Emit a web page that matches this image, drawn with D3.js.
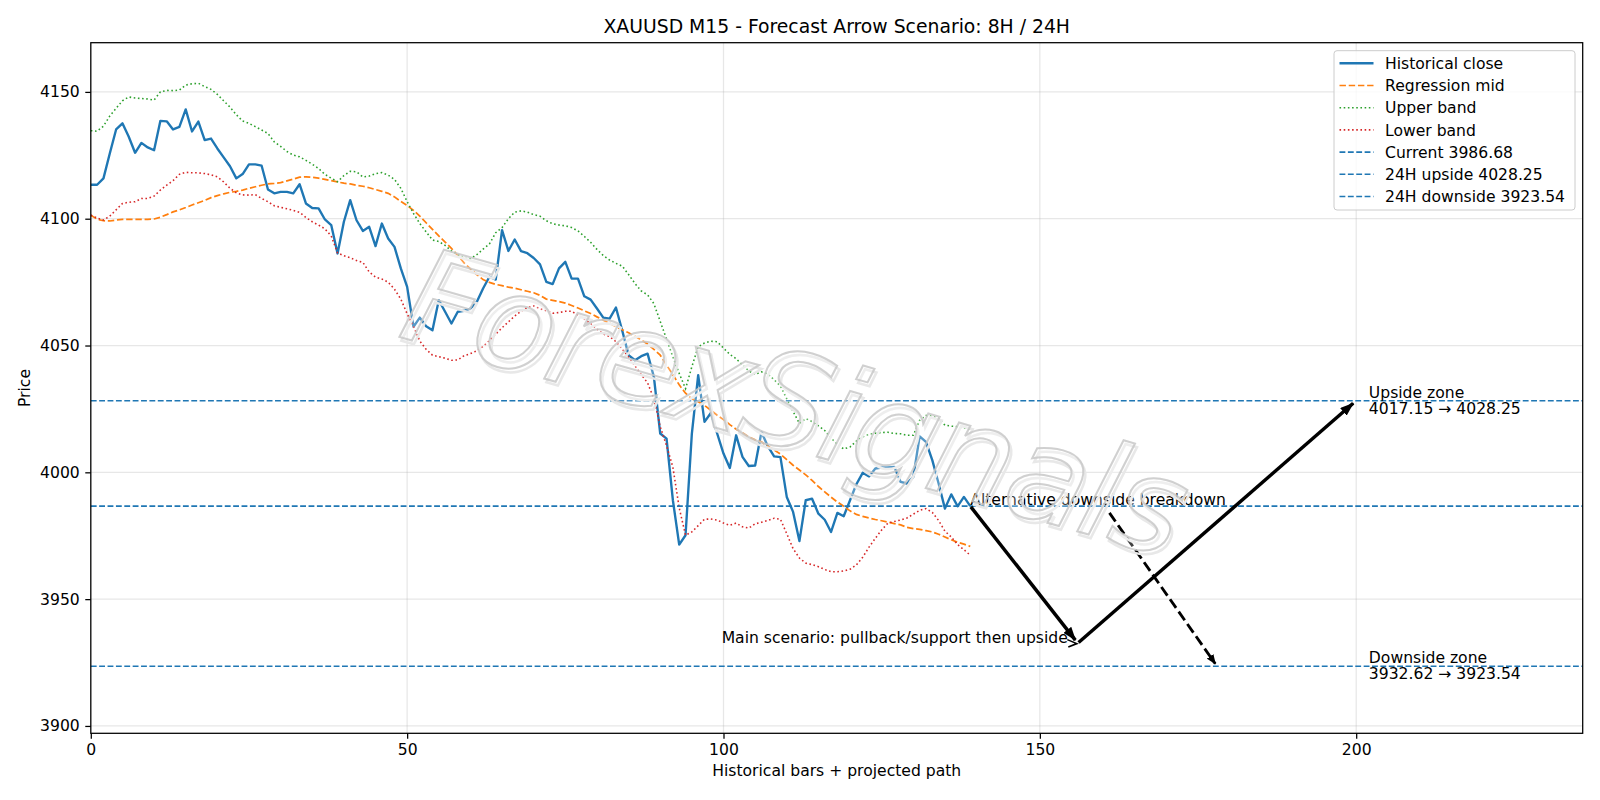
<!DOCTYPE html>
<html>
<head>
<meta charset="utf-8">
<script src="https://cdn.jsdelivr.net/npm/d3@7/dist/d3.min.js"></script>
<style>
  body { margin: 0; background: #fff; }
  svg text { font-family: "DejaVu Sans", sans-serif; }
</style>
</head>
<body>
<div id="chart"></div>
<script>
// values
const closeVals = [4113.4, 4113.4, 4115.9, 4125.7, 4135.2, 4137.6, 4132.3, 4126.0, 4129.9, 4128.1,
    4127.0, 4138.6, 4138.4, 4135.2, 4136.2, 4143.1, 4134.4, 4138.3, 4131.0, 4131.6,
    4127.7, 4124.2, 4120.7, 4115.9, 4117.6, 4121.4, 4121.4, 4120.9, 4111.5, 4110.0,
    4110.6, 4110.6, 4110.0, 4113.6, 4106.0, 4104.2, 4104.1, 4099.7, 4097.5, 4086.3,
    4098.8, 4107.3, 4099.4, 4095.2, 4096.8, 4089.2, 4098.1, 4092.2, 4088.9, 4080.4,
    4073.1, 4057.4, 4061.0, 4057.6, 4056.0, 4067.9, 4063.3, 4058.7, 4063.3, 4063.7,
    4064.6, 4067.2, 4072.5, 4077.1, 4076.0, 4095.5, 4087.3, 4091.8, 4087.2, 4086.4,
    4084.5, 4082.0, 4075.1, 4074.2, 4080.4, 4083.0, 4076.4, 4076.4, 4069.4, 4068.1,
    4064.6, 4061.0, 4060.6, 4065.0, 4055.8, 4046.2, 4044.2, 4045.8, 4046.8, 4037.6,
    4015.3, 4013.3, 3989.0, 3971.5, 3975.2, 4015.3, 4038.3, 4019.9, 4023.4, 4015.3,
    4007.4, 4001.7, 4014.6, 4006.1, 4002.5, 4002.7, 4015.9, 4010.3, 4006.3, 4006.0,
    3990.3, 3984.4, 3972.9, 3989.0, 3989.6, 3983.7, 3981.3, 3976.5, 3984.0, 3982.7,
    3989.0, 3995.3, 3999.8, 3998.4, 4001.5, 4001.9, 4001.9, 4002.1, 3996.2, 3995.6,
    3998.2, 4014.2, 4012.0, 4004.8, 3995.6, 3985.7, 3991.3, 3986.6, 3990.3, 3986.68];

const midVals = [4101.4, 4099.8, 4099.2, 4099.1, 4099.5, 4099.7, 4099.7, 4099.7, 4099.7, 4099.7,
    4099.9, 4100.6, 4101.6, 4102.7, 4103.5, 4104.4, 4105.4, 4106.3, 4107.2, 4108.3,
    4109.1, 4109.8, 4110.4, 4110.8, 4111.3, 4112.0, 4112.6, 4113.2, 4113.7, 4113.9,
    4114.2, 4114.9, 4115.6, 4116.4, 4116.5, 4116.3, 4116.0, 4115.5, 4115.0, 4114.5,
    4114.0, 4113.7, 4113.2, 4112.8, 4112.2, 4111.5, 4110.8, 4110.0, 4108.6, 4106.8,
    4105.2, 4103.3, 4101.0, 4098.4, 4095.8, 4093.2, 4090.8, 4088.3, 4085.5, 4082.6,
    4080.2, 4078.0, 4076.0, 4074.9, 4074.1, 4073.6, 4073.0, 4072.6, 4072.0, 4071.4,
    4070.8, 4069.8, 4068.3, 4067.8, 4067.3, 4066.7, 4065.8, 4064.8, 4063.7, 4062.6,
    4061.3, 4060.0, 4058.8, 4057.5, 4056.2, 4055.0, 4053.7, 4052.2, 4050.6, 4048.5,
    4046.2, 4042.3, 4038.5, 4034.5, 4031.2, 4029.0, 4027.8, 4026.4, 4024.5, 4022.5,
    4020.8, 4018.8, 4017.0, 4015.6, 4014.0, 4012.8, 4012.0, 4010.3, 4008.8, 4007.2,
    4005.0, 4002.8, 4000.9, 3999.0, 3996.8, 3994.4, 3992.3, 3990.2, 3988.3, 3986.6,
    3984.8, 3983.4, 3982.6, 3982.0, 3981.4, 3980.9, 3980.4, 3979.8, 3979.3, 3978.3,
    3977.8, 3977.5, 3977.0, 3976.5, 3975.6, 3974.5, 3973.4, 3972.4, 3971.7, 3970.8];

const upperVals = [4134.7, 4134.5, 4136.5, 4140.5, 4143.5, 4146.5, 4148.0, 4147.6, 4147.4, 4147.2,
    4146.8, 4150.0, 4150.6, 4150.5, 4150.7, 4152.7, 4153.2, 4153.4, 4152.1, 4151.0,
    4149.0, 4146.5, 4144.0, 4141.0, 4138.5, 4137.6, 4136.3, 4135.0, 4133.6, 4130.3,
    4128.5, 4126.5, 4125.1, 4124.4, 4123.0, 4121.5, 4119.8, 4117.5, 4116.0, 4114.6,
    4117.0, 4118.7, 4118.5, 4116.5, 4116.8, 4117.8, 4118.2, 4117.2, 4115.5, 4112.0,
    4106.7, 4102.1, 4098.1, 4094.8, 4091.6, 4091.0, 4089.5, 4087.3, 4086.0, 4084.3,
    4084.2, 4085.8, 4088.0, 4090.0, 4094.5, 4096.5, 4100.0, 4102.6, 4103.1, 4102.6,
    4101.6, 4101.0, 4099.2, 4098.0, 4097.5, 4097.2, 4096.5, 4095.2, 4093.0, 4090.7,
    4087.9, 4085.5, 4083.7, 4082.4, 4081.3, 4078.0, 4074.5, 4071.5, 4070.0, 4066.5,
    4059.5, 4052.5, 4045.5, 4039.0, 4033.0, 4041.6, 4049.5, 4051.0, 4051.7, 4051.5,
    4049.0, 4046.5, 4044.8, 4042.3, 4040.0, 4038.6, 4039.6, 4038.8, 4036.5, 4034.0,
    4029.0, 4024.0, 4019.3, 4021.2, 4020.0, 4018.3, 4016.5, 4013.5, 4011.0, 4009.2,
    4010.0, 4012.3, 4014.0, 4015.0, 4015.4, 4015.7, 4015.8, 4015.3, 4015.2, 4014.6,
    4014.6, 4020.5, 4022.4, 4022.2, 4021.2, 4018.6, 4018.2, 4018.0, 4017.5, 4016.9];

const lowerVals = [4101.4, 4100.3, 4099.5, 4101.0, 4103.5, 4106.0, 4106.5, 4106.7, 4108.0, 4108.0,
    4108.9, 4111.3, 4113.2, 4115.0, 4117.5, 4118.3, 4118.1, 4118.1, 4117.8, 4117.3,
    4116.5, 4114.5, 4112.0, 4110.2, 4109.4, 4109.3, 4109.5, 4108.0, 4106.7, 4105.1,
    4104.5, 4103.9, 4103.3, 4102.5, 4100.5, 4098.8, 4097.5, 4096.0, 4093.2, 4086.5,
    4085.4, 4084.6, 4083.5, 4082.8, 4079.0, 4077.0, 4076.2, 4075.0, 4072.2, 4068.3,
    4062.5, 4057.5, 4051.8, 4048.5, 4046.2, 4045.6, 4045.0, 4044.2, 4044.3, 4046.0,
    4046.8, 4047.9, 4049.6, 4052.0, 4054.5, 4057.0, 4059.3, 4061.6, 4063.5, 4065.0,
    4065.6, 4064.5, 4063.7, 4062.7, 4063.0, 4063.5, 4063.5, 4062.0, 4060.5, 4058.6,
    4056.5, 4054.6, 4053.5, 4051.6, 4048.5, 4045.5, 4042.0, 4038.5, 4035.3, 4029.0,
    4018.0, 4010.5, 4002.0, 3986.0, 3975.2, 3976.5, 3979.0, 3981.5, 3981.6, 3981.2,
    3980.0, 3979.1, 3980.0, 3978.5, 3978.0, 3979.7, 3980.3, 3981.0, 3981.9, 3981.5,
    3975.8, 3969.9, 3966.2, 3964.2, 3963.6, 3962.8, 3961.7, 3960.8, 3960.8, 3961.1,
    3961.8, 3963.5, 3966.5, 3970.5, 3974.0, 3977.3, 3980.0, 3980.6, 3981.2, 3982.0,
    3983.5, 3985.0, 3985.7, 3984.2, 3981.0, 3976.8, 3974.5, 3971.5, 3969.5, 3967.3];

const currentPrice = 3986.68;
const upside24 = 4028.25;
const downside24 = 3923.54;
const upsideZone = [4017.15, 4028.25];
const downsideZone = [3932.62, 3923.54];

// projected scenario paths: [bar, price]
const mainPath = [[139, 3986.68], [156, 3932.62], [200, 4028.25]];
const altPath = [[161, 3984.0], [178, 3923.54]];

const xTicks = [0, 50, 100, 150, 200];
const yTicks = [3900, 3950, 4000, 4050, 4100, 4150];
const xDomain = [0, 235.8];
const yDomain = [3897.1, 4169.4];

const legendLabels = ["Historical close", "Regression mid", "Upper band", "Lower band",
    "Current " + currentPrice.toFixed(2), "24H upside " + upside24.toFixed(2), "24H downside " + downside24.toFixed(2)];

const C0 = "#1f77b4", C1 = "#ff7f0e", C2 = "#2ca02c", C3 = "#d62728";
const pt = 1.58; // px per point

function drawChart(divId) {
    const width = 1600, height = 800;
    const margin = { left: 90.8, top: 42.7, right: 1600 - 1582.7, bottom: 800 - 733.3 };
    const fs = 15.6;

    const svg = d3.select("#" + divId).append("svg").attr("width", width).attr("height", height);

    const x = d3.scaleLinear().domain(xDomain).range([margin.left, width - margin.right]);
    const y = d3.scaleLinear().domain(yDomain).range([height - margin.bottom, margin.top]);

    const defs = svg.append("defs");
    defs.append("clipPath").attr("id", "plotClip").append("rect")
        .attr("x", margin.left).attr("y", margin.top)
        .attr("width", width - margin.left - margin.right).attr("height", height - margin.top - margin.bottom);
    defs.append("marker").attr("id", "headBig").attr("markerUnits", "userSpaceOnUse")
        .attr("viewBox", "0 0 14 10").attr("refX", 13).attr("refY", 5)
        .attr("markerWidth", 14).attr("markerHeight", 10).attr("orient", "auto")
        .append("path").attr("d", "M0,0L14,5L0,10z").attr("fill", "#000");
    defs.append("marker").attr("id", "headSmall").attr("markerUnits", "userSpaceOnUse")
        .attr("viewBox", "0 0 10 8").attr("refX", 9).attr("refY", 4)
        .attr("markerWidth", 10).attr("markerHeight", 8).attr("orient", "auto")
        .append("path").attr("d", "M0,0L10,4L0,8z").attr("fill", "#000");

    // grid
    const grid = svg.append("g");
    grid.selectAll(".gx").data(xTicks).join("line")
        .attr("x1", d => x(d)).attr("x2", d => x(d))
        .attr("y1", margin.top).attr("y2", height - margin.bottom)
        .attr("stroke", "#b0b0b0").attr("stroke-opacity", 0.3).attr("stroke-width", 0.8 * pt);
    grid.selectAll(".gy").data(yTicks).join("line")
        .attr("x1", margin.left).attr("x2", width - margin.right)
        .attr("y1", d => y(d)).attr("y2", d => y(d))
        .attr("stroke", "#b0b0b0").attr("stroke-opacity", 0.3).attr("stroke-width", 0.8 * pt);

    const plot = svg.append("g").attr("clip-path", "url(#plotClip)");
    const line = d3.line().x((d, i) => x(i)).y(d => y(d));

    plot.append("path").datum(closeVals).attr("d", line)
        .attr("fill", "none").attr("stroke", C0).attr("stroke-width", 1.5 * pt).attr("stroke-linejoin", "round");
    plot.append("path").datum(midVals).attr("d", line)
        .attr("fill", "none").attr("stroke", C1).attr("stroke-width", 1.1 * pt)
        .attr("stroke-dasharray", (3.7 * 1.1 * pt) + "," + (1.6 * 1.1 * pt));
    plot.append("path").datum(upperVals).attr("d", line)
        .attr("fill", "none").attr("stroke", C2).attr("stroke-width", 1 * pt)
        .attr("stroke-dasharray", (1 * pt) + "," + (1.65 * pt));
    plot.append("path").datum(lowerVals).attr("d", line)
        .attr("fill", "none").attr("stroke", C3).attr("stroke-width", 1 * pt)
        .attr("stroke-dasharray", (1 * pt) + "," + (1.65 * pt));

    plot.selectAll(".hl").data([currentPrice, upside24, downside24]).join("line")
        .attr("x1", margin.left).attr("x2", width - margin.right)
        .attr("y1", d => y(d)).attr("y2", d => y(d))
        .attr("stroke", C0).attr("stroke-width", 1 * pt)
        .attr("stroke-dasharray", (3.7 * pt) + "," + (1.6 * pt));

    // scenario arrows
    function shorten(p0, p1, a, b) {
        const dx = p1[0] - p0[0], dy = p1[1] - p0[1];
        const len = Math.sqrt(dx * dx + dy * dy);
        return [[p0[0] + dx * a / len, p0[1] + dy * a / len], [p1[0] - dx * b / len, p1[1] - dy * b / len]];
    }
    const arrows = svg.append("g");
    for (let i = 0; i < mainPath.length - 1; i++) {
        const p0 = [x(mainPath[i][0]), y(mainPath[i][1])];
        const p1 = [x(mainPath[i + 1][0]), y(mainPath[i + 1][1])];
        const s = shorten(p0, p1, 1, 4);
        arrows.append("line")
            .attr("x1", s[0][0]).attr("y1", s[0][1]).attr("x2", s[1][0]).attr("y2", s[1][1])
            .attr("stroke", "#000").attr("stroke-width", 2.2 * pt).attr("marker-end", "url(#headBig)");
    }
    {
        const p0 = [x(altPath[0][0]), y(altPath[0][1])];
        const p1 = [x(altPath[1][0]), y(altPath[1][1])];
        const s = shorten(p0, p1, 0, 3);
        arrows.append("line")
            .attr("x1", s[0][0]).attr("y1", s[0][1]).attr("x2", s[1][0]).attr("y2", s[1][1])
            .attr("stroke", "#000").attr("stroke-width", 1.8 * pt)
            .attr("stroke-dasharray", (3.7 * 1.8 * pt) + "," + (1.6 * 1.8 * pt))
            .attr("marker-end", "url(#headSmall)");
    }
    // small open head left at the pivot point
    const pv = [x(mainPath[1][0]), y(mainPath[1][1])];
    arrows.append("path")
        .attr("d", d3.line()([[pv[0] - 10.5, pv[1] - 3.6], [pv[0] - 1, pv[1] + 0.4], [pv[0] - 9.5, pv[1] + 3.8]]))
        .attr("fill", "none").attr("stroke", "#000").attr("stroke-width", 1.6);

    // annotation texts
    svg.append("text").attr("x", x(mainPath[0][0])).attr("y", y(currentPrice) - 1.5)
        .attr("font-size", fs).attr("fill", "#000").text("Alternative downside breakdown");
    svg.append("text").attr("x", x(mainPath[1][0]) - 10).attr("y", y(mainPath[1][1]))
        .attr("text-anchor", "end").attr("font-size", fs).attr("fill", "#000")
        .text("Main scenario: pullback/support then upside");
    const zoneTexts = [
        { lines: ["Upside zone", upsideZone[0].toFixed(2) + " \u2192 " + upsideZone[1].toFixed(2)], v: upside24 },
        { lines: ["Downside zone", downsideZone[0].toFixed(2) + " \u2192 " + downsideZone[1].toFixed(2)], v: downside24 }
    ];
    for (const z of zoneTexts) {
        const t = svg.append("text").attr("font-size", fs).attr("fill", "#000");
        t.append("tspan").attr("x", x(202)).attr("y", y(z.v) - 3).text(z.lines[0]);
        t.append("tspan").attr("x", x(202)).attr("y", y(z.v) + 13.2).text(z.lines[1]);
    }

    // watermark: light outlined letters with a soft shadow
    const wm = svg.append("g").attr("transform", "translate(396,336) rotate(16)");
    wm.append("text").attr("x", 3).attr("y", 3).attr("font-size", 132).attr("font-style", "italic")
        .attr("textLength", 806).attr("lengthAdjust", "spacing")
        .attr("fill", "none").attr("stroke", "#e8e8e8").attr("stroke-width", 2.5).text("ForexSignals");
    wm.append("text").attr("font-size", 132).attr("font-style", "italic")
        .attr("textLength", 806).attr("lengthAdjust", "spacing")
        .attr("fill", "#fff").attr("fill-opacity", 0.25)
        .attr("stroke", "#c8c8c8").attr("stroke-opacity", 0.85).attr("stroke-width", 2).text("ForexSignals");

    // axes
    const xAxis = svg.append("g").attr("transform", "translate(0," + (height - margin.bottom) + ")")
        .call(d3.axisBottom(x).tickValues(xTicks).tickFormat(d3.format("d")).tickSize(3.5 * pt).tickPadding(3.5 * pt));
    const yAxis = svg.append("g").attr("transform", "translate(" + margin.left + ",0)")
        .call(d3.axisLeft(y).tickValues(yTicks).tickFormat(d3.format("d")).tickSize(3.5 * pt).tickPadding(3.5 * pt));
    for (const ax of [xAxis, yAxis]) {
        ax.select(".domain").remove();
        ax.selectAll(".tick line").attr("stroke", "#000").attr("stroke-width", 0.8 * pt);
        ax.selectAll(".tick text").attr("font-size", fs).attr("fill", "#000").attr("font-family", "DejaVu Sans");
    }
    svg.append("rect").attr("x", margin.left).attr("y", margin.top)
        .attr("width", width - margin.left - margin.right).attr("height", height - margin.top - margin.bottom)
        .attr("fill", "none").attr("stroke", "#000").attr("stroke-width", 0.8 * pt);

    svg.append("text").attr("x", (margin.left + width - margin.right) / 2).attr("y", 33)
        .attr("text-anchor", "middle").attr("font-size", 18.8).attr("fill", "#000")
        .text("XAUUSD M15 - Forecast Arrow Scenario: 8H / 24H");
    svg.append("text").attr("x", (margin.left + width - margin.right) / 2).attr("y", 776)
        .attr("text-anchor", "middle").attr("font-size", fs).attr("fill", "#000")
        .text("Historical bars + projected path");
    svg.append("text").attr("transform", "translate(30," + ((margin.top + height - margin.bottom) / 2) + ") rotate(-90)")
        .attr("text-anchor", "middle").attr("font-size", fs).attr("fill", "#000").text("Price");

    // legend
    const lg = svg.append("g");
    lg.append("rect").attr("x", 1334).attr("y", 50.7).attr("width", 241).attr("height", 159.3)
        .attr("rx", 3).attr("fill", "#fff").attr("fill-opacity", 0.8)
        .attr("stroke", "#cccccc").attr("stroke-width", 1);
    const legendStyles = [
        { c: C0, w: 1.5 * pt, dash: null },
        { c: C1, w: 1.1 * pt, dash: (3.7 * 1.1 * pt) + "," + (1.6 * 1.1 * pt) },
        { c: C2, w: 1 * pt, dash: (1 * pt) + "," + (1.65 * pt) },
        { c: C3, w: 1 * pt, dash: (1 * pt) + "," + (1.65 * pt) },
        { c: C0, w: 1 * pt, dash: (3.7 * pt) + "," + (1.6 * pt) },
        { c: C0, w: 1 * pt, dash: (3.7 * pt) + "," + (1.6 * pt) },
        { c: C0, w: 1 * pt, dash: (3.7 * pt) + "," + (1.6 * pt) }
    ];
    legendLabels.forEach((lab, i) => {
        const cy = 63.3 + i * 22.2;
        lg.append("line").attr("x1", 1339.5).attr("x2", 1373.5).attr("y1", cy).attr("y2", cy)
            .attr("stroke", legendStyles[i].c).attr("stroke-width", legendStyles[i].w)
            .attr("stroke-dasharray", legendStyles[i].dash);
        lg.append("text").attr("x", 1385).attr("y", cy + 5.6).attr("font-size", fs).attr("fill", "#000").text(lab);
    });
}

drawChart("chart");
</script>
</body>
</html>
